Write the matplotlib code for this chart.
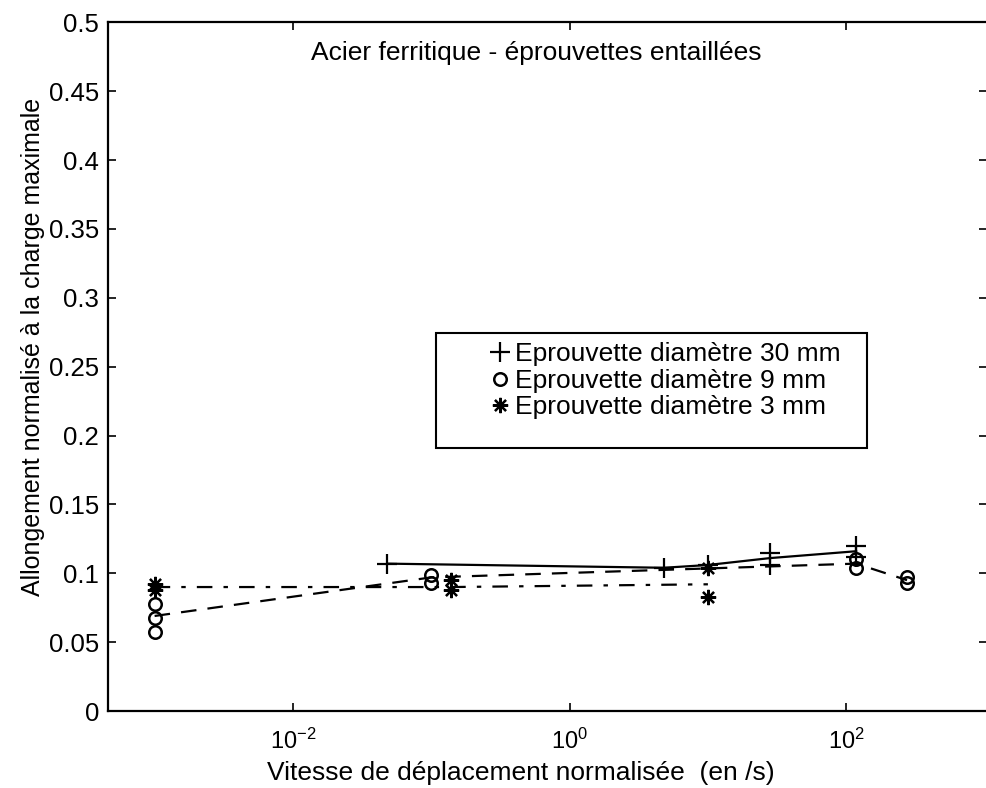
import matplotlib
matplotlib.use("Agg")
import matplotlib.pyplot as plt
from matplotlib.patches import Rectangle

# data (x: normalised speed 1/s, y: normalised elongation)
x30 = [0.048, 4.8, 10, 28, 28, 118, 118]
y30 = [0.107, 0.104, 0.106, 0.115, 0.106, 0.120, 0.112]
x9 = [1e-3, 1e-3, 1e-3, 0.1, 0.1, 118, 118, 275, 275]
y9 = [0.078, 0.0675, 0.057, 0.099, 0.093, 0.110, 0.104, 0.097, 0.093]
x3 = [1e-3, 1e-3, 0.138, 0.138, 10, 10]
y3 = [0.092, 0.088, 0.095, 0.088, 0.083, 0.104]

# mean curves
fit30_x = [0.048, 4.8, 10, 28, 118]
fit30_y = [0.107, 0.104, 0.106, 0.111, 0.116]
fit9_x = [1e-3, 0.1, 118, 275]
fit9_y = [0.069, 0.097, 0.107, 0.095]
fit3_x = [1e-3, 0.138, 10]
fit3_y = [0.090, 0.090, 0.092]

labels = ["Eprouvette diamètre 30 mm", "Eprouvette diamètre 9 mm",
          "Eprouvette diamètre 3 mm"]

plt.rcParams["font.family"] = ["Liberation Sans", "DejaVu Sans"]
plt.rcParams["mathtext.fontset"] = "custom"
plt.rcParams["mathtext.rm"] = "Liberation Sans"
plt.rcParams["mathtext.it"] = "Liberation Sans"

fig = plt.figure(figsize=(9.86, 7.88), dpi=100)
ax = fig.add_axes([0.1095, 0.0977, 0.892, 0.874])

ax.plot(fit30_x, fit30_y, "-", color="black", lw=1.6)
ax.plot(fit9_x, fit9_y, "--", color="black", lw=1.6, dashes=(7, 5))
ax.plot(fit3_x, fit3_y, "-.", color="black", lw=1.6, dashes=(7, 5, 2, 5))

h1, = ax.plot(x30, y30, "+", color="black", ms=14, mew=1.6, ls="none")
h2, = ax.plot(x9, y9, "o", color="black", mfc="none", ms=9, mew=1.8, ls="none")
h3, = ax.plot(x3, y3, marker=(8, 2, 0), color="black", ms=11, mew=1.6, ls="none")

ax.set_xscale("log")
ax.set_xlim(4.6e-4, 1.05e3)
ax.set_ylim(0, 0.5)
ax.set_yticks([0, 0.05, 0.1, 0.15, 0.2, 0.25, 0.3, 0.35, 0.4, 0.45, 0.5])
ax.set_yticklabels(["0", "0.05", "0.1", "0.15", "0.2", "0.25", "0.3",
                    "0.35", "0.4", "0.45", "0.5"])
ax.set_xticks([1e-2, 1e0, 1e2])
ax.minorticks_off()
ax.tick_params(axis="both", direction="in", length=6, width=1.2,
               top=True, right=True)
ax.tick_params(axis="y", labelsize=18.5, pad=6.5)
ax.tick_params(axis="x", labelsize=17, pad=13)
for s in ax.spines.values():
    s.set_linewidth(1.6)

ax.set_xlabel("Vitesse de déplacement normalisée  (en /s)", fontsize=19)
ax.xaxis.set_label_coords(0.469, -0.073)
ax.set_ylabel("Allongement normalisé à la charge maximale", fontsize=18)
ax.yaxis.set_label_coords(-0.0715, 0.528)

ax.text(0.487, 0.956, "Acier ferritique - éprouvettes entaillées",
        transform=ax.transAxes, ha="center", va="center", fontsize=19)

# legend frame drawn separately, markers sit well inside the box
ax.add_patch(Rectangle((0.373, 0.382), 0.49, 0.167, transform=ax.transAxes,
                       fill=False, ec="black", lw=1.5, zorder=4))
ax.legend([h1, h2, h3], labels, loc="upper left",
          bbox_to_anchor=(0.434, 0.5355), frameon=False, fontsize=19,
          handlelength=0.8, handletextpad=0.15, labelspacing=0.1,
          borderpad=0, borderaxespad=0, numpoints=1)

fig.savefig("out.png", dpi=100)
